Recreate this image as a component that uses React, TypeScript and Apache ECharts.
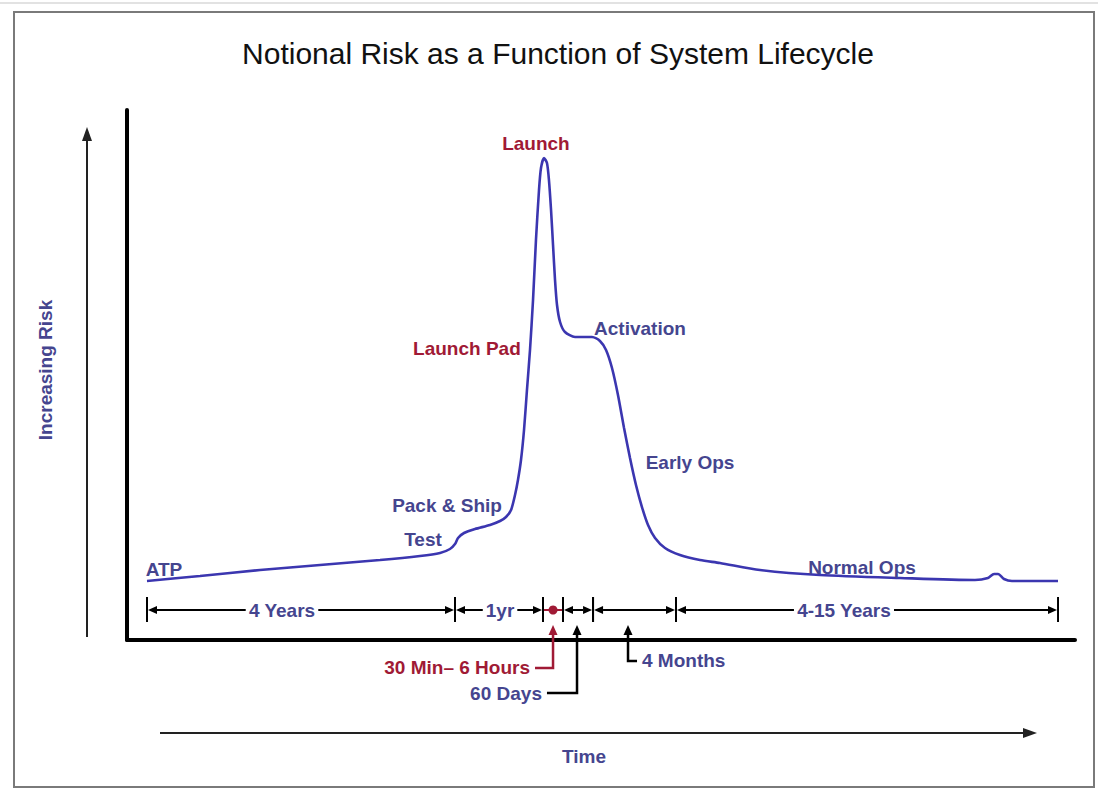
import React, { useEffect, useRef } from "react";
import * as echarts from "echarts";

// ---------- DATA (notional units: x = lifecycle time 0..100, y = risk 0..100) ----------
const TITLE = "Notional Risk as a Function of System Lifecycle";

const CURVE_X = [
  2.11, 7.7, 14.03, 20.36, 26.69, 30.91, 33.02, 34.07, 34.6, 34.92, 35.55, 36.71, 38.29,
  39.35, 39.98, 40.51, 40.93, 41.24, 41.56, 41.88, 42.19, 42.51, 42.83, 43.14, 43.46,
  43.67, 43.99, 44.3, 44.51, 44.73, 44.94, 45.15, 45.36, 45.68, 46.2, 47.26, 49.05,
  49.89, 50.53, 51.16, 51.79, 52.43, 53.06, 53.69, 54.32, 54.96, 55.7, 56.75, 58.33,
  60.44, 62.55, 66.77, 73.1, 81.54, 89.45, 90.82, 91.46, 91.88, 92.51, 93.35, 98.21,
];
const CURVE_Y = [
  11.13, 12.08, 13.21, 14.15, 15.09, 15.85, 16.42, 17.17, 18.11, 19.25, 20.19, 20.94, 21.7,
  22.45, 23.21, 24.53, 27.36, 30.19, 33.96, 39.62, 47.17, 54.72, 64.15, 75.47, 84.91,
  89.06, 90.94, 90.0, 86.79, 81.13, 74.53, 67.92, 63.21, 60.0, 58.11, 57.17, 57.17,
  56.42, 54.72, 51.32, 46.23, 40.0, 34.34, 29.25, 25.09, 21.7, 19.25, 17.36, 16.04,
  15.09, 14.53, 13.21, 12.26, 11.7, 11.32, 11.7, 12.45, 12.45, 11.51, 11.13, 11.13,
];

const PHASE_LABELS = ["ATP", "Test", "Pack & Ship", "Launch Pad", "Launch", "Activation", "Early Ops", "Normal Ops"];
const PHASE_LABEL_X = [3.9, 31.22, 33.76, 35.86, 43.14, 54.11, 59.39, 77.53];
const PHASE_LABEL_Y = [13.21, 18.87, 25.47, 54.91, 93.77, 58.68, 33.58, 13.77];
const PHASE_IS_LAUNCH = [false, false, false, true, true, false, false, false];

const TIMELINE_BOUNDS = [2.11, 34.6, 43.88, 45.99, 49.16, 57.91, 98.21];
const TIMELINE_LABELS = ["4 Years", "1yr", "", "", "", "4-15 Years"];
const TIMELINE_LABEL_X = [16.35, 39.35, null, null, null, 75.63];
const TIMELINE_Y = 5.66;
const LAUNCH_SEGMENT = 2;
const LAUNCH_DOT_X = 44.94;

const CALLOUT_LABELS = ["30 Min\u2013 6 Hours", "60 Days", "4 Months"];
const CALLOUT_TARGET_X = [44.94, 47.47, 52.85];
const CALLOUT_LEG_X = [43.04, 44.3, 53.8];
const CALLOUT_ELBOW_Y = [-5.28, -10.0, -3.96];
const CALLOUT_IS_LAUNCH = [true, false, false];

// ---------- STYLE ----------
const BLUE_TEXT = "#45458F";
const CURVE_COLOR = "#3B36B0";
const RED = "#A01A35";
const FONT_FAMILY = '"Liberation Sans", Arial, sans-serif';
const LABEL_FONT = `bold 19px ${FONT_FAMILY}`;

function measure(text: string, font: string): number {
  const c = document.createElement("canvas");
  const ctx = c.getContext("2d");
  if (!ctx) return text.length * 10;
  ctx.font = font;
  return ctx.measureText(text).width;
}

function textEl(text: string, x: number, y: number, fill: string, align: string = "center") {
  return {
    type: "text",
    style: {
      text,
      x,
      y,
      fill,
      font: LABEL_FONT,
      align,
      textAlign: align,
      verticalAlign: "middle",
      textVerticalAlign: "middle",
    },
  };
}

export default function App() {
  const ref = useRef<HTMLDivElement>(null);

  useEffect(() => {
    if (!ref.current) return;
    const chart = echarts.init(ref.current, undefined, { renderer: "svg" });

    const timelineData = TIMELINE_BOUNDS.slice(0, -1).map((s, i) => [s, TIMELINE_BOUNDS[i + 1], TIMELINE_Y]);
    const calloutData = CALLOUT_TARGET_X.map((x, i) => [x, CALLOUT_LEG_X[i], CALLOUT_ELBOW_Y[i]]);
    const labelData = PHASE_LABEL_X.map((x, i) => [x, PHASE_LABEL_Y[i]]);

    const option: any = {
      animation: false,
      backgroundColor: "#ffffff",
      title: {
        text: TITLE,
        left: 553,
        textAlign: "center",
        top: 33,
        textStyle: { fontFamily: FONT_FAMILY, fontWeight: "normal", fontSize: 30, color: "#111" },
      },
      grid: { left: 127, right: 23, top: 110, bottom: 152 },
      xAxis: {
        type: "value",
        min: 0,
        max: 100,
        axisLine: { show: true, onZero: false, lineStyle: { color: "#000", width: 4 } },
        axisTick: { show: false },
        axisLabel: { show: false },
        splitLine: { show: false },
      },
      yAxis: {
        type: "value",
        min: 0,
        max: 100,
        axisLine: { show: true, lineStyle: { color: "#000", width: 4 } },
        axisTick: { show: false },
        axisLabel: { show: false },
        splitLine: { show: false },
      },
      series: [
        {
          type: "line",
          name: "Risk",
          data: CURVE_X.map((x, i) => [x, CURVE_Y[i]]),
          showSymbol: false,
          smooth: 0.25,
          lineStyle: { color: CURVE_COLOR, width: 2.6 },
          z: 3,
        },
        {
          type: "custom",
          name: "Timeline",
          data: timelineData,
          encode: { x: [0, 1], y: 2 },
          clip: false,
          renderItem: (params: any, api: any) => {
            const i = params.dataIndex;
            const a = api.coord([api.value(0), api.value(2)]);
            const b = api.coord([api.value(1), api.value(2)]);
            const y = a[1];
            const isLaunch = i === LAUNCH_SEGMENT;
            const color = isLaunch ? RED : "#000";
            const children: any[] = [];
            const label = TIMELINE_LABELS[i];
            const ah = 9;
            const aw = 4;
            const x0 = a[0] + 1;
            const x1 = b[0] - 1;
            if (label) {
              const lx = api.coord([TIMELINE_LABEL_X[i], TIMELINE_Y])[0];
              const half = measure(label, LABEL_FONT) / 2 + 3;
              children.push({ type: "line", shape: { x1: x0 + ah, y1: y, x2: lx - half, y2: y }, style: { stroke: color, lineWidth: 2 } });
              children.push({ type: "line", shape: { x1: lx + half, y1: y, x2: x1 - ah, y2: y }, style: { stroke: color, lineWidth: 2 } });
              children.push(textEl(label, lx, y, BLUE_TEXT));
            } else {
              children.push({ type: "line", shape: { x1: x0 + (isLaunch ? 0 : ah), y1: y, x2: x1 - (isLaunch ? 0 : ah), y2: y }, style: { stroke: color, lineWidth: 2 } });
            }
            if (!isLaunch) {
              children.push({ type: "polygon", shape: { points: [[x0, y], [x0 + ah, y - aw], [x0 + ah, y + aw]] }, style: { fill: "#000" } });
              children.push({ type: "polygon", shape: { points: [[x1, y], [x1 - ah, y - aw], [x1 - ah, y + aw]] }, style: { fill: "#000" } });
            } else {
              const d = api.coord([LAUNCH_DOT_X, TIMELINE_Y]);
              children.push({ type: "circle", shape: { cx: d[0], cy: d[1], r: 4.5 }, style: { fill: RED } });
            }
            for (const tx of [a[0], b[0]]) {
              children.push({ type: "line", shape: { x1: tx, y1: y - 13, x2: tx, y2: y + 12 }, style: { stroke: "#000", lineWidth: 2 } });
            }
            return { type: "group", children };
          },
          z: 4,
        },
        {
          type: "custom",
          name: "Callouts",
          data: calloutData,
          encode: { x: [0, 1], y: 2 },
          clip: false,
          renderItem: (params: any, api: any) => {
            const i = params.dataIndex;
            const elbow = api.coord([api.value(0), api.value(2)]);
            const leg = api.coord([api.value(1), api.value(2)]);
            const tipY = api.coord([api.value(0), TIMELINE_Y])[1] + 15;
            const isLaunch = CALLOUT_IS_LAUNCH[i];
            const stroke = isLaunch ? RED : "#000";
            const textFill = isLaunch ? RED : BLUE_TEXT;
            const left = leg[0] < elbow[0];
            const children: any[] = [
              {
                type: "polyline",
                shape: { points: [[leg[0], leg[1]], [elbow[0], elbow[1]], [elbow[0], tipY + 8]] },
                style: { stroke, lineWidth: 2.5, fill: "none" },
              },
              {
                type: "polygon",
                shape: { points: [[elbow[0], tipY], [elbow[0] - 4.5, tipY + 10], [elbow[0] + 4.5, tipY + 10]] },
                style: { fill: stroke },
              },
              textEl(CALLOUT_LABELS[i], leg[0] + (left ? -5 : 5), leg[1], textFill, left ? "right" : "left"),
            ];
            return { type: "group", children };
          },
          z: 4,
        },
        {
          type: "custom",
          name: "Phases",
          data: labelData,
          encode: { x: 0, y: 1 },
          clip: false,
          renderItem: (params: any, api: any) => {
            const i = params.dataIndex;
            const p = api.coord([api.value(0), api.value(1)]);
            return textEl(PHASE_LABELS[i], p[0], p[1], PHASE_IS_LAUNCH[i] ? RED : BLUE_TEXT);
          },
          z: 5,
        },
      ],
      graphic: [
        { type: "line", shape: { x1: 0, y1: 3, x2: 1098, y2: 3 }, style: { stroke: "#e2e2e2", lineWidth: 2 } },
        { type: "rect", shape: { x: 14, y: 12, width: 1080, height: 775 }, style: { fill: "none", stroke: "#7a7a7a", lineWidth: 2 } },
        { type: "line", shape: { x1: 87, y1: 637, x2: 87, y2: 138 }, style: { stroke: "#222", lineWidth: 2 } },
        { type: "polygon", shape: { points: [[87, 127], [82, 141], [92, 141]] }, style: { fill: "#222" } },
        {
          type: "text",
          x: 45,
          y: 370,
          rotation: Math.PI / 2,
          style: {
            text: "Increasing Risk",
            fill: BLUE_TEXT,
            font: LABEL_FONT,
            align: "center",
            textAlign: "center",
            verticalAlign: "middle",
            textVerticalAlign: "middle",
          },
        },
        { type: "line", shape: { x1: 160, y1: 733, x2: 1025, y2: 733 }, style: { stroke: "#222", lineWidth: 2 } },
        { type: "polygon", shape: { points: [[1037, 733], [1023, 728], [1023, 738]] }, style: { fill: "#222" } },
        {
          type: "text",
          x: 584,
          y: 756,
          style: {
            text: "Time",
            fill: BLUE_TEXT,
            font: LABEL_FONT,
            align: "center",
            textAlign: "center",
            verticalAlign: "middle",
            textVerticalAlign: "middle",
          },
        },
      ],
    };

    chart.setOption(option);
    return () => chart.dispose();
  }, []);

  return (
    <div
      ref={ref}
      style={{ position: "fixed", left: 0, top: 0, width: 1098, height: 792, background: "#fff" }}
    />
  );
}
